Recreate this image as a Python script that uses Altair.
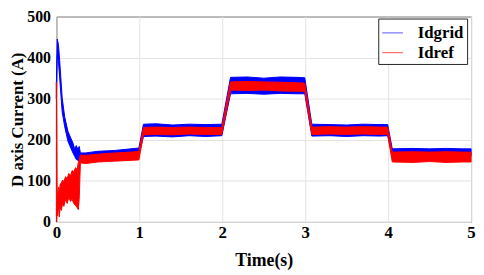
import altair as alt
import pandas as pd

# Idgrid envelope (min / max of the noisy signal)
g_t  = [0.000, 0.010, 0.025, 0.040, 0.070, 0.100, 0.140, 0.200, 0.220, 0.240, 0.260, 0.275, 0.290, 0.350, 0.500, 0.700, 0.900, 0.995,
        1.050, 1.200, 1.400, 1.600, 1.800, 1.995, 2.100, 2.300, 2.500, 2.700, 2.900, 2.995, 3.080, 3.300, 3.500, 3.700,
        3.900, 3.995, 4.050, 4.300, 4.500, 4.700, 4.900, 5.000]
g_lo = [300, 405, 390, 350, 268, 232, 196, 168, 160, 152, 150, 148, 150, 155, 158, 160, 162, 163,
        208, 209, 207, 210, 208, 210, 312, 313, 311, 313, 312, 312, 209, 210, 208, 210,
        209, 210, 158, 160, 159, 160, 159, 160]
g_hi = [335, 445, 432, 392, 302, 256, 220, 192, 178, 186, 176, 184, 168, 168, 172, 174, 178, 180,
        238, 239, 236, 238, 237, 238, 352, 353, 350, 353, 352, 351, 238, 237, 236, 238,
        237, 237, 178, 179, 178, 179, 178, 178]

# Idref envelope
r_t  = [0.000, 0.008, 0.015, 0.025, 0.035, 0.045, 0.060, 0.075, 0.090, 0.110, 0.130, 0.150, 0.170, 0.190,
        0.210, 0.230, 0.250, 0.265, 0.275, 0.290, 0.350, 0.500, 0.700, 0.900, 0.995,
        1.050, 1.200, 1.400, 1.600, 1.800, 1.995, 2.100, 2.300, 2.500, 2.700, 2.900, 2.995, 3.080, 3.300, 3.500, 3.700,
        3.900, 3.995, 4.050, 4.300, 4.500, 4.700, 4.900, 5.000]
r_lo = [0, 30, 15, 40, 12, 35, 28, 45, 38, 55, 45, 60, 50, 55,
        45, 40, 35, 30, 55, 144, 142, 146, 148, 150, 151,
        212, 213, 212, 214, 213, 213, 321, 320, 321, 319, 318, 318, 213, 214, 213, 214,
        213, 213, 146, 145, 147, 145, 146, 146]
r_hi = [340, 80, 60, 85, 70, 92, 95, 102, 98, 110, 106, 118, 112, 125,
        122, 132, 128, 145, 150, 163, 162, 165, 168, 170, 172,
        230, 231, 230, 231, 230, 230, 341, 342, 341, 340, 339, 338, 231, 232, 231, 232,
        231, 231, 170, 171, 170, 171, 170, 170]

series_names = ["Idgrid", "Idref"]
series_colors = ["#0000FF", "#FF0000"]
x_ticks = [0, 1, 2, 3, 4, 5]
y_ticks = [0, 100, 200, 300, 400, 500]

df = pd.concat([
    pd.DataFrame({"t": g_t, "lo": g_lo, "hi": g_hi, "series": series_names[0]}),
    pd.DataFrame({"t": r_t, "lo": r_lo, "hi": r_hi, "series": series_names[1]}),
])

FONT = "Liberation Serif"
cscale = alt.Scale(domain=series_names, range=series_colors)

legend = alt.Legend(
    title=None, orient="none", legendX=326, legendY=2,
    symbolType="stroke", symbolSize=440, symbolStrokeWidth=1.2, symbolOpacity=0.55,
    labelFont=FONT, labelFontWeight="bold", labelFontSize=17, labelColor="black",
    labelOffset=14, strokeColor="#262626", fillColor="white", padding=3, rowPadding=0,
)

x = alt.X("t:Q", scale=alt.Scale(domain=[0, 5], nice=False),
          axis=alt.Axis(values=x_ticks, format="d", title="Time(s)",
                        titleFont=FONT, titleFontWeight="bold", titleFontSize=18,
                        titleY=39, titleBaseline="middle", titleColor="black",
                        labelFont=FONT, labelFontWeight="bold", labelFontSize=17, labelColor="black",
                        labelPadding=3, ticks=False, domain=False,
                        grid=True, gridColor="#E3E3E3", labelFlush=False))
y = alt.Y("lo:Q", stack=None, scale=alt.Scale(domain=[0, 500], nice=False),
          axis=alt.Axis(values=y_ticks, title="D axis Current (A)",
                        titleFont=FONT, titleFontWeight="bold", titleFontSize=17,
                        titleX=-39, titleY=104, titleBaseline="middle", titleAlign="center",
                        titleColor="black",
                        labelFont=FONT, labelFontWeight="bold", labelFontSize=16, labelColor="black",
                        labelPadding=6, ticks=False, domain=False,
                        grid=True, gridColor="#E3E3E3", labelFlush=False))

base = alt.Chart(df).mark_area(strokeWidth=1, interpolate="linear").encode(
    x=x, y=y, y2="hi:Q",
    fill=alt.Fill("series:N", scale=cscale, legend=legend),
    stroke=alt.Stroke("series:N", scale=cscale, legend=legend),
)

chart = alt.layer(
    base.transform_filter(alt.datum.series == "Idgrid"),
    base.transform_filter(alt.datum.series == "Idref"),
).properties(
    width=420, height=208,
    padding={"left": 49, "top": 7, "right": 5, "bottom": 48},
    autosize=alt.AutoSizeParams(type="none"),
).configure_view(stroke="#262626", strokeWidth=1
).configure_axis(labelFont=FONT, titleFont=FONT
).configure_legend(labelFont=FONT)

chart.save("out.html", embed_options={"renderer": "svg", "actions": False})
